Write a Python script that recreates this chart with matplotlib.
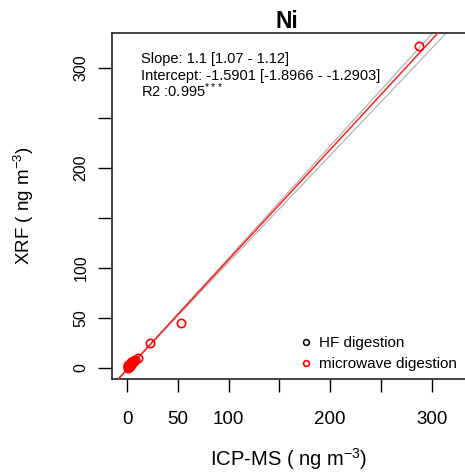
import matplotlib
matplotlib.use("Agg")
import matplotlib.pyplot as plt
import numpy as np

# ---------------- data ----------------
icp_microwave = [0.6, 1.0, 1.2, 1.5, 2.0, 2.3, 2.8, 3.1, 3.5, 4.0, 4.4, 5.0, 5.5, 6.1, 6.8, 7.5,
                 1.0, 1.8, 2.6, 3.3, 4.7, 5.8, 0.9, 3.9, 11.0, 22.6, 52.8, 287.0]
xrf_microwave = [0.3, 0.9, 1.5, 1.2, 2.1, 2.8, 3.0, 3.6, 3.3, 4.2, 4.9, 5.4, 6.0, 6.6, 7.4, 8.3,
                 2.0, 1.4, 3.8, 2.5, 5.8, 7.0, 3.0, 6.2, 10.3, 25.3, 45.3, 322.0]
icp_hf = []
xrf_hf = []

slope = 1.1
intercept = -1.5901
slope_lo, slope_hi = 1.07, 1.12
int_lo, int_hi = -1.2903, -1.8966

xticks = [0, 50, 100, 150, 200, 250, 300]
xticklabels = ["0", "50", "100", "", "200", "", "300"]
yticks = [0, 50, 100, 150, 200, 250, 300]
yticklabels = ["0", "50", "100", "", "200", "", "300"]

stats_lines = ["Slope: 1.1 [1.07 - 1.12]",
               "Intercept: -1.5901 [-1.8966 - -1.2903]",
               r"R2 :0.995$^{***}$"]

# ---------------- style ----------------
plt.rcParams['font.family'] = ['Liberation Sans', 'DejaVu Sans']
plt.rcParams['mathtext.fontset'] = 'custom'
plt.rcParams['mathtext.rm'] = 'Liberation Sans'
plt.rcParams['mathtext.it'] = 'Liberation Sans:italic'
plt.rcParams['mathtext.bf'] = 'Liberation Sans:bold'
plt.rcParams['mathtext.default'] = 'regular'

W, H = 465, 473
fig = plt.figure(figsize=(W / 100, H / 100), dpi=100)
ax = fig.add_axes([112 / W, (H - 379) / H, (W - 112) / W, (379 - 33) / H])

xlim = (-14.8, 332.7)
ylim = (-11, 335)
ax.set_xlim(*xlim)
ax.set_ylim(*ylim)

xs = np.array(xlim)
ax.plot(xs, slope_lo * xs + int_lo, color='#b4b4b4', lw=0.9, zorder=2)
ax.plot(xs, slope_hi * xs + int_hi, color='#b4b4b4', lw=0.9, zorder=2)
ax.plot(xs, slope * xs + intercept, color='#ff2020', lw=1.1, zorder=3)

ax.plot(icp_hf, xrf_hf, 'o', mfc='none', mec='black', ms=6, mew=1.1,
        label='HF digestion', zorder=4)
ax.plot(icp_microwave, xrf_microwave, 'o', mfc='none', mec='#ff0000', ms=6,
        mew=1.2, label='microwave digestion', zorder=4)

ax.set_xticks(xticks)
ax.set_xticklabels(xticklabels, fontsize=13.5)
ax.set_yticks(yticks)
ax.set_yticklabels(yticklabels, fontsize=11.5, rotation=90, va='center')
ax.tick_params(axis='x', length=9, width=1.0, pad=14, direction='out')
ax.tick_params(axis='y', length=10, width=1.0, pad=7, direction='out')

for s in ['left', 'bottom', 'top']:
    ax.spines[s].set_linewidth(1.2)
    ax.spines[s].set_color('#222222')
ax.spines['right'].set_visible(False)

ax.set_xlabel(r"ICP-MS ( ng m$^{-3}$)", fontsize=14.5, labelpad=13)
ax.set_ylabel(r"XRF ( ng m$^{-3}$)", fontsize=13.5, labelpad=27)
ax.set_title("Ni", fontsize=16.5, fontweight='bold', pad=-4, x=0.496)

for i, line in enumerate(stats_lines):
    fig.text(141 / W, 1 - (62.7 + 17 * i) / H, line, fontsize=10.5,
             ha='left', va='baseline')

leg = ax.legend(loc='lower left', bbox_to_anchor=((295 - 112) / (W - 112), (379 - 377) / (379 - 33)),
                frameon=False, fontsize=11, handlelength=0.6, handletextpad=0.6,
                labelspacing=0.42, borderaxespad=0, markerscale=0.7)

fig.savefig("out.png", dpi=100)
